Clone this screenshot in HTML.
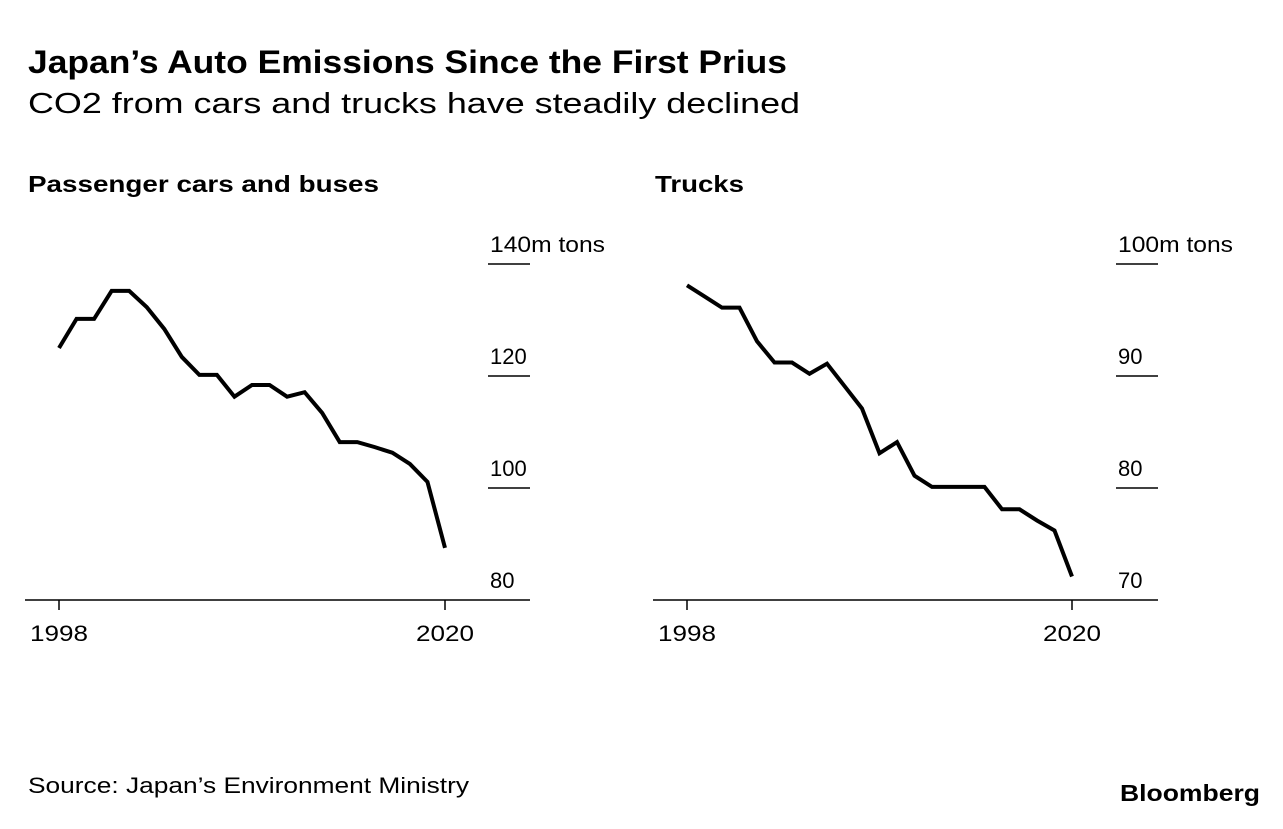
<!DOCTYPE html>
<html><head><meta charset="utf-8"><style>
body{margin:0;background:#fff;width:1283px;height:824px;overflow:hidden;font-family:"Liberation Sans",sans-serif;}
</style></head><body>
<svg width="1283" height="824" font-family="Liberation Sans, sans-serif">
<text x="28" y="73" font-size="32" font-weight="bold" textLength="759" lengthAdjust="spacingAndGlyphs">Japan’s Auto Emissions Since the First Prius</text>
<text x="28" y="113" font-size="29" textLength="772" lengthAdjust="spacingAndGlyphs">CO2 from cars and trucks have steadily declined</text>
<text x="28" y="192" font-size="23" font-weight="bold" textLength="351" lengthAdjust="spacingAndGlyphs">Passenger cars and buses</text>
<text x="655" y="192" font-size="23" font-weight="bold" textLength="89" lengthAdjust="spacingAndGlyphs">Trucks</text>
<g id="left"></g>
<g id="right"></g>
<text x="28" y="793" font-size="22" textLength="441" lengthAdjust="spacingAndGlyphs">Source: Japan’s Environment Ministry</text>
<text x="1120" y="801" font-size="23" font-weight="bold" textLength="140" lengthAdjust="spacingAndGlyphs">Bloomberg</text>
</svg>
<script>
const years=[1998,1999,2000,2001,2002,2003,2004,2005,2006,2007,2008,2009,2010,2011,2012,2013,2014,2015,2016,2017,2018,2019,2020];
const carsValues=[125,130.2,130.2,135.2,135.2,132.3,128.4,123.4,120.2,120.2,116.3,118.4,118.4,116.3,117.1,113.4,108.2,108.2,107.3,106.3,104.3,101.1,89.3];
const trucksValues=[98.1,97.1,96.1,96.1,93.1,91.2,91.2,90.2,91.1,89.1,87.1,83.1,84.1,81.1,80.1,80.1,80.1,80.1,78.1,78.1,77.1,76.2,72.1];
const carsTicks=[140,120,100,80];
const trucksTicks=[100,90,80,70];
const xTickLabels=[1998,2020];
const NS="http://www.w3.org/2000/svg";
function el(t,a,p){const e=document.createElementNS(NS,t);for(const k in a)e.setAttribute(k,a[k]);p.appendChild(e);return e;}
function panel(g,vals,ticks,x0,x1,axL,axR,name){
  const y=v=>600-(v-ticks[3])/(ticks[0]-ticks[3])*336;
  const x=yr=>x0+(yr-years[0])/(years[years.length-1]-years[0])*(x1-x0);
  const base=el('line',{x1:axL,x2:axR,y1:600,y2:600,stroke:'#000','stroke-width':1.5},g);
  
  
  ticks.forEach((t,i)=>{
    if(i<3){const l=el('line',{x1:axR-42,x2:axR,y1:y(t),y2:y(t),stroke:'#000','stroke-width':1.5},g);
      
      }
    const s=String(t)+(i==0?'m tons':'');
    const a={x:axR-40,y:y(t)-12,'font-size':22};
    if(i==0){a.textLength=115;a.lengthAdjust='spacingAndGlyphs';}
    const tx=el('text',a,g);
    tx.textContent=s;
    
    
  });
  xTickLabels.forEach(yr=>{
    const l=el('line',{x1:x(yr),x2:x(yr),y1:600,y2:610,stroke:'#000','stroke-width':1.5},g);
    
    
    const tx=el('text',{x:x(yr),y:641,'font-size':22,'text-anchor':'middle',textLength:58,lengthAdjust:'spacingAndGlyphs'},g);
    tx.textContent=yr;
    
    
  });
  const p=el('polyline',{points:vals.map((v,i)=>x(years[i])+','+y(v)).join(' '),fill:'none',stroke:'#000','stroke-width':4,'stroke-linejoin':'miter'},g);
  
  
}
panel(document.getElementById('left'),carsValues,carsTicks,59,445,25,530,"cars");
panel(document.getElementById('right'),trucksValues,trucksTicks,687,1072,653,1158,"trucks");
</script>
</body></html>
